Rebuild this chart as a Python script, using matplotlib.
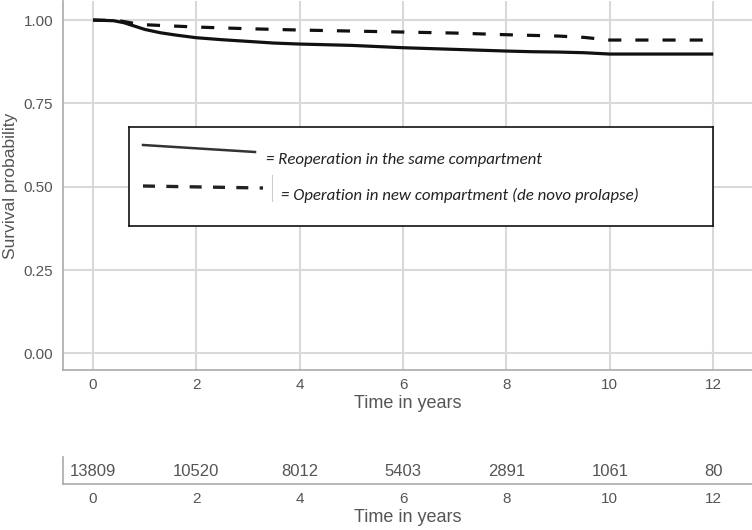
import numpy as np
import matplotlib
matplotlib.use("Agg")
import matplotlib.pyplot as plt

# Kaplan-Meier curves
t_same = [0, 0.4, 0.6, 0.8, 1.0, 1.3, 1.6, 2.0, 2.5, 3.0, 3.5, 4.0, 5.0, 6.0, 7.0, 8.0, 8.5, 9.0, 9.5, 10.0, 11.0, 12.0]
s_same = [1.0, 0.998, 0.992, 0.982, 0.972, 0.962, 0.955, 0.947, 0.941, 0.936, 0.931, 0.928, 0.924, 0.917, 0.912, 0.907, 0.905, 0.904, 0.902, 0.898, 0.898, 0.898]

t_new = [0, 0.5, 0.8, 1.0, 2.0, 3.0, 4.0, 5.0, 6.0, 7.0, 8.0, 9.0, 9.5, 10.0, 12.0]
s_new = [1.0, 0.998, 0.990, 0.986, 0.979, 0.974, 0.970, 0.967, 0.964, 0.961, 0.956, 0.952, 0.948, 0.940, 0.940]

risk_times = [0, 2, 4, 6, 8, 10, 12]
at_risk = [13809, 10520, 8012, 5403, 2891, 1061, 80]

label_same = "= Reoperation in the same compartment"
label_new = "= Operation in new compartment (de novo prolapse)"

grey = "#555555"
grid_c = "#d9d9d9"
fam = ["Liberation Sans", "DejaVu Sans"]
lfam = ["Carlito", "Lato", "DejaVu Sans"]

fig = plt.figure(figsize=(7.52, 5.30), dpi=100)

ax = fig.add_axes([63/752, 1-370/530, 1-63/752, 370/530-0.002])
ax.plot(t_same, s_same, color="#111111", lw=2.3, solid_capstyle="butt")
ax.plot(t_new, s_new, color="#111111", lw=2.3, ls=(0, (4.1, 4.4)))
ax.set_xlim(-0.58, 12.75)
ax.set_ylim(-0.05, 1.057)
ax.set_xticks(risk_times)
ax.set_yticks([0, 0.25, 0.5, 0.75, 1.0])
ax.set_yticklabels(["0.00", "0.25", "0.50", "0.75", "1.00"])
ax.grid(True, color=grid_c, lw=1.5)
ax.set_axisbelow(True)
for s in ["top", "right"]:
    ax.spines[s].set_visible(False)
for s in ["left", "bottom"]:
    ax.spines[s].set_color("#aaaaaa")
    ax.spines[s].set_linewidth(1.2)
ax.tick_params(axis="y", length=0, colors=grey, labelsize=11, pad=7)
ax.tick_params(axis="x", length=0, colors=grey, labelsize=11, pad=6)
for lab in ax.get_xticklabels() + ax.get_yticklabels():
    lab.set_family(fam)
ax.set_xlabel("Time in years", fontsize=13, color=grey, family=fam, labelpad=2)
ax.set_ylabel("Survival probability", fontsize=12.5, color=grey, family=fam, labelpad=4)

# hand drawn legend box
lg = fig.add_axes([129/752, 1-226/530, (713-129)/752, (226-127)/530])
lg.set_xlim(0, 584)
lg.set_ylim(99, 0)
lg.set_xticks([])
lg.set_yticks([])
for s in lg.spines.values():
    s.set_color("#111111")
    s.set_linewidth(1.2)
lg.plot([14, 126], [18, 25], color="#333333", lw=1.8)
lg.plot([14, 134], [59, 61], color="#222222", lw=2.4, ls=(0, (3.6, 3.4)))
lg.plot([143, 143], [48, 74], color="#cccccc", lw=0.8)
lg.text(137, 33, label_same, fontsize=12.2, style="italic", family=lfam, va="center", color="#222222")
lg.text(152, 68, label_new, fontsize=12.2, style="italic", family=lfam, va="center", color="#222222")

# numbers at risk table
tb = fig.add_axes([63/752, 1-484/530, 1-63/752, 27/530])
tb.set_xlim(-0.58, 12.75)
tb.set_ylim(0, 1)
for x, n in zip(risk_times, at_risk):
    tb.text(x, 0.47, str(n), ha="center", va="center", fontsize=12, color=grey, family=fam)
tb.set_xticks(risk_times)
tb.set_yticks([])
for s in ["top", "right"]:
    tb.spines[s].set_visible(False)
for s in ["left", "bottom"]:
    tb.spines[s].set_color("#aaaaaa")
    tb.spines[s].set_linewidth(1.2)
tb.tick_params(length=0, colors=grey, labelsize=11, pad=6)
for lab in tb.get_xticklabels():
    lab.set_family(fam)
tb.set_xlabel("Time in years", fontsize=13, color=grey, family=fam, labelpad=2)

fig.savefig("out.png", dpi=100)
